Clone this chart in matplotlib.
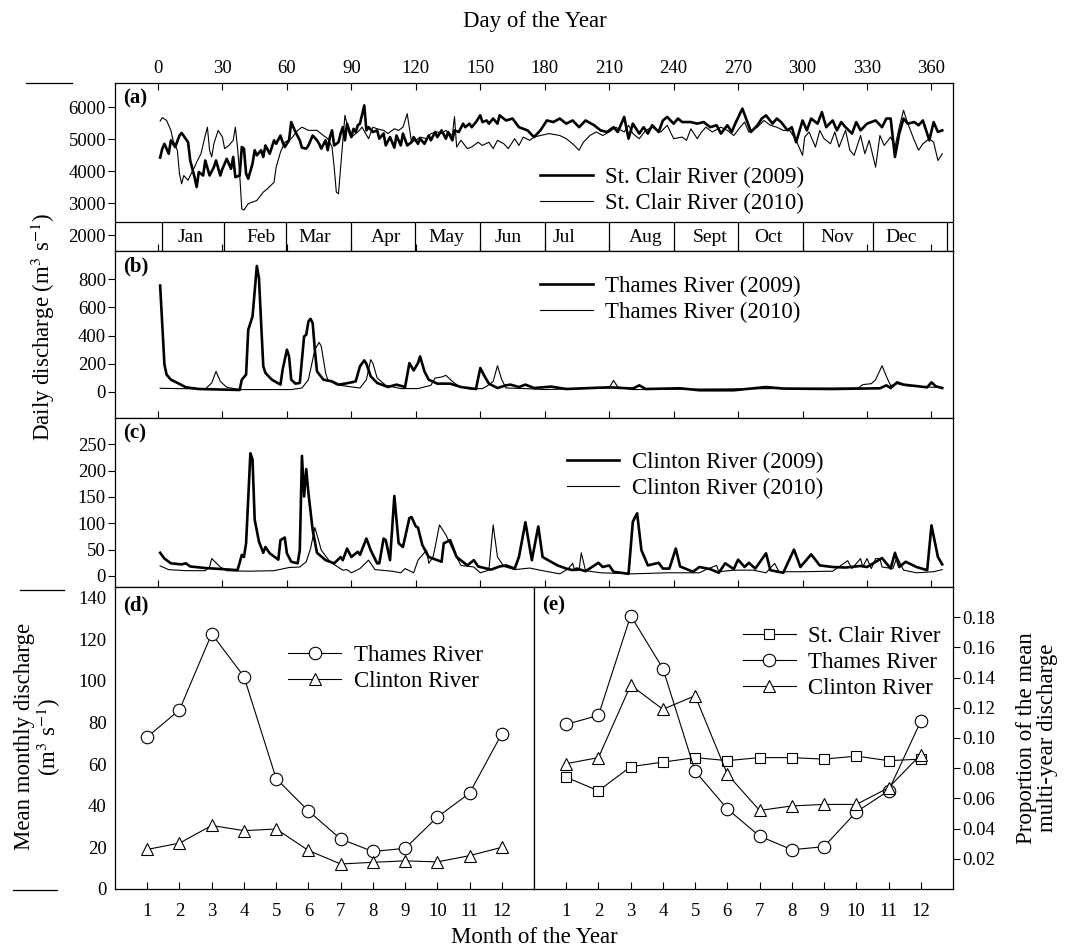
import matplotlib
matplotlib.use("Agg")
import matplotlib.pyplot as plt
from matplotlib.lines import Line2D

plt.rcParams['font.family'] = ['Liberation Serif', 'DejaVu Serif']
plt.rcParams['mathtext.fontset'] = 'stix'

# ---- daily discharge (day of year, m3/s) ----
stclair_2009_day = [1, 2, 3, 5, 6, 8, 10, 11, 14, 15, 17, 18, 19, 21, 22, 24, 26, 27, 29, 30,
                    32, 34, 35, 36, 38, 39, 40, 41, 42, 44, 45, 46, 48, 49, 50, 52, 54, 55, 57, 58,
                    59, 61, 62, 63, 64, 66, 67, 69, 70, 72, 74, 75, 76, 78, 79, 80, 81, 82, 84, 85,
                    86, 87, 88, 90, 91, 92, 93, 94, 96, 97, 98, 100, 102, 103, 105, 106, 108, 110, 111, 113,
                    114, 116, 118, 119, 121, 122, 124, 126, 127, 129, 130, 132, 134, 135, 137, 138, 140, 142, 143, 145,
                    146, 148, 150, 151, 153, 154, 156, 158, 159, 162, 165, 168, 172, 175, 178, 181, 184, 187, 190, 193,
                    196, 199, 203, 206, 209, 212, 214, 217, 219, 221, 224, 226, 228, 230, 233, 235, 237, 240, 242, 244,
                    248, 251, 254, 257, 260, 262, 265, 267, 269, 272, 274, 276, 279, 281, 283, 286, 288, 290, 293, 295,
                    297, 300, 302, 304, 307, 309, 311, 314, 316, 318, 320, 323, 325, 327, 330, 332, 334, 337, 339, 341,
                    343, 345, 347, 349, 352, 354, 356, 359, 361, 363, 365]
stclair_2009 = [4420, 4700, 4850, 4540, 4960, 4750, 5110, 5190, 4900, 4330, 3810, 3500, 3970, 3860, 4330, 3860, 4120, 4330, 3860, 4070,
                4380, 4070, 4440, 3810, 3860, 4750, 4700, 3920, 3760, 4230, 4650, 4490, 4650, 4440, 4800, 4540, 4960, 4850, 5110, 4900,
                4750, 4960, 5530, 5370, 5220, 4960, 4730, 4700, 4800, 5110, 4960, 4850, 4700, 4960, 4650, 5060, 5270, 4800, 4900, 5170,
                5370, 4960, 5480, 5060, 5320, 5220, 5430, 5480, 6050, 5270, 5370, 5220, 5270, 5010, 5170, 4800, 5060, 4730, 5110, 4800,
                5170, 4800, 4900, 5060, 4850, 5010, 4850, 5110, 4960, 5220, 5060, 5270, 5010, 5220, 4960, 5270, 5220, 5480, 5370, 5480,
                5370, 5530, 5740, 5530, 5580, 5480, 5640, 5480, 5740, 5580, 5640, 5370, 5270, 5060, 5270, 5580, 5530, 5640, 5480, 5580,
                5370, 5580, 5430, 5270, 5220, 5370, 5220, 5690, 5010, 5480, 5170, 5370, 5170, 5430, 5220, 5580, 5690, 5480, 5640, 5530,
                5530, 5480, 5530, 5370, 5430, 5170, 5430, 5220, 5530, 5950, 5580, 5220, 5430, 5640, 5740, 5480, 5640, 5530, 5270, 5370,
                4900, 5580, 5270, 5640, 5480, 5840, 5370, 5580, 5270, 5530, 5370, 5170, 5530, 5270, 5480, 5530, 5580, 5370, 5640, 5640,
                4440, 5170, 5640, 5480, 5530, 5430, 5580, 4960, 5530, 5220, 5270]

stclair_2010_day = [1, 2, 4, 6, 7, 9, 10, 11, 12, 14, 15, 17, 18, 20, 22, 23, 24, 25, 26, 28,
                    30, 31, 33, 35, 36, 37, 38, 39, 40, 42, 46, 49, 51, 54, 55, 57, 59, 62, 65, 67,
                    70, 74, 77, 79, 81, 82, 83, 84, 85, 86, 87, 89, 90, 93, 95, 98, 100, 102, 105, 107,
                    110, 112, 114, 116, 118, 120, 122, 125, 127, 130, 132, 134, 137, 138, 139, 141, 144, 146, 149, 151,
                    154, 156, 158, 161, 163, 166, 168, 170, 173, 175, 178, 182, 187, 190, 193, 196, 198, 201, 204, 207,
                    210, 213, 217, 219, 221, 224, 227, 230, 234, 237, 240, 244, 246, 248, 251, 253, 255, 258, 262, 265,
                    268, 271, 273, 275, 279, 282, 285, 288, 291, 294, 297, 300, 301, 303, 306, 308, 310, 313, 315, 317,
                    320, 322, 324, 327, 329, 331, 334, 336, 338, 341, 343, 345, 347, 349, 352, 354, 356, 359, 361, 363,
                    365]
stclair_2010 = [5560, 5670, 5580, 5270, 4960, 4650, 3920, 3600, 3860, 3710, 3860, 4120, 4280, 4540, 5110, 5370, 4650, 4440, 4850, 5270,
                5060, 4700, 4800, 4960, 5370, 4750, 3920, 2820, 2780, 2980, 3080, 3340, 3450, 3650, 4120, 4590, 4900, 5010, 5270, 5370,
                5270, 5270, 5110, 5010, 4750, 4120, 3340, 3290, 4120, 4960, 5740, 5170, 5060, 5220, 5370, 5010, 5370, 5320, 5270, 5170,
                5320, 5270, 5370, 5790, 4900, 4960, 5060, 5010, 5170, 5220, 5170, 5270, 5110, 5700, 4750, 4960, 4700, 4750, 4900, 4800,
                4900, 4700, 4960, 4850, 4700, 5010, 4800, 5060, 4960, 5060, 5110, 5170, 5110, 5010, 4850, 4650, 4900, 5110, 5220, 5110,
                5220, 5370, 5220, 5430, 5170, 5010, 5270, 5370, 5220, 5430, 5010, 5060, 4960, 5320, 5010, 5220, 5370, 5220, 5370, 5270,
                5110, 5370, 5530, 5220, 5370, 5580, 5430, 5370, 5270, 5270, 4960, 4490, 5060, 5220, 4750, 5270, 5010, 4850, 5220, 4750,
                5270, 4650, 4490, 5110, 4540, 4960, 4120, 5110, 4800, 5060, 4750, 5370, 5900, 5480, 4960, 4650, 4850, 5010, 4900, 4330,
                4540]

thames_2009_day = [1, 3, 4, 6, 10, 13, 19, 30, 38, 39, 41, 42, 44, 46, 47, 48, 49, 50, 53, 57,
                   58, 60, 61, 62, 64, 66, 67, 68, 69, 70, 71, 72, 73, 74, 77, 81, 84, 87, 90, 92,
                   94, 96, 97, 99, 102, 107, 111, 115, 117, 119, 121, 122, 124, 126, 130, 136, 141, 148, 150, 152,
                   154, 158, 162, 164, 168, 171, 175, 183, 190, 210, 221, 224, 227, 243, 252, 268, 283, 291, 314, 336,
                   339, 341, 344, 347, 358, 360, 362, 365]
thames_2009 = [755, 193, 123, 87, 57, 33, 21, 17, 14, 87, 123, 441, 536, 894, 807, 489, 182, 135, 87, 52,
               158, 300, 252, 87, 59, 64, 229, 394, 406, 500, 519, 488, 300, 146, 87, 75, 52, 59, 68, 75,
               182, 224, 200, 111, 64, 35, 52, 35, 205, 153, 205, 252, 146, 87, 59, 59, 35, 21, 170, 111,
               59, 28, 47, 52, 35, 52, 28, 38, 21, 33, 24, 47, 21, 26, 12, 12, 35, 24, 21, 26,
               47, 28, 68, 52, 33, 68, 40, 28]

thames_2010_day = [1, 22, 25, 27, 29, 32, 38, 62, 67, 70, 73, 75, 76, 78, 79, 83, 88, 94, 97, 99,
                   100, 102, 106, 113, 121, 127, 129, 132, 134, 137, 140, 145, 151, 153, 156, 158, 160, 162, 171, 180,
                   210, 212, 214, 221, 326, 328, 332, 334, 337, 339, 341, 344, 348, 361, 365]
thames_2010 = [26, 21, 64, 146, 75, 33, 17, 17, 28, 87, 300, 352, 323, 135, 87, 52, 40, 28, 87, 229,
               205, 99, 47, 24, 24, 47, 99, 106, 118, 75, 40, 21, 24, 40, 75, 186, 87, 28, 24, 17,
               28, 82, 35, 17, 28, 52, 59, 87, 186, 111, 45, 59, 45, 33, 31]

clinton_2009_day = [1, 3, 6, 11, 13, 15, 22, 30, 37, 38, 39, 40, 41, 43, 44, 45, 47, 49, 50, 52,
                    56, 57, 59, 60, 62, 65, 66, 67, 68, 69, 70, 72, 74, 78, 82, 85, 86, 88, 90, 93,
                    94, 97, 99, 102, 103, 105, 106, 108, 110, 112, 114, 117, 118, 120, 121, 123, 126, 132, 133, 136,
                    139, 144, 147, 149, 155, 159, 162, 166, 168, 171, 174, 177, 179, 182, 186, 190, 193, 195, 199, 205,
                    207, 210, 212, 219, 221, 223, 225, 228, 233, 235, 238, 241, 243, 249, 252, 257, 261, 264, 268, 270,
                    273, 275, 278, 283, 285, 291, 296, 299, 304, 308, 314, 320, 327, 330, 337, 341, 343, 345, 348, 353,
                    358, 360, 363, 365]
clinton_2009 = [44, 33, 24, 22, 24, 18, 15, 13, 11, 25, 40, 36, 62, 233, 221, 107, 65, 44, 55, 43,
                31, 68, 73, 43, 27, 24, 49, 228, 151, 203, 158, 87, 44, 30, 24, 36, 30, 52, 36, 46,
                40, 71, 49, 24, 24, 71, 68, 30, 152, 62, 55, 110, 112, 94, 92, 59, 36, 27, 62, 68,
                36, 20, 30, 18, 12, 18, 20, 14, 36, 102, 30, 94, 36, 29, 20, 14, 11, 14, 9, 25,
                17, 20, 8, 4, 103, 119, 49, 20, 25, 14, 14, 52, 18, 8, 17, 13, 6, 24, 13, 31,
                17, 25, 14, 43, 11, 6, 50, 17, 41, 20, 17, 16, 19, 17, 34, 14, 44, 17, 27, 17,
                11, 96, 36, 22]

clinton_2010_day = [1, 5, 13, 22, 24, 25, 29, 32, 42, 54, 61, 66, 69, 71, 73, 74, 76, 80, 86, 88,
                    90, 94, 98, 101, 109, 113, 115, 119, 121, 125, 126, 128, 129, 131, 134, 138, 141, 147, 150, 154,
                    156, 158, 161, 166, 173, 179, 187, 191, 193, 194, 196, 197, 199, 206, 221, 237, 252, 255, 260, 261,
                    268, 277, 283, 287, 289, 299, 314, 321, 323, 327, 328, 330, 332, 334, 336, 337, 342, 344, 347, 353,
                    361, 365]
clinton_2010 = [19, 12, 10, 10, 17, 33, 17, 10, 9, 10, 16, 17, 27, 52, 92, 78, 49, 27, 11, 12,
                6, 14, 30, 12, 9, 6, 14, 6, 30, 49, 24, 36, 55, 97, 78, 43, 20, 17, 6, 11,
                97, 36, 18, 12, 15, 10, 4, 14, 24, 10, 11, 44, 10, 6, 4, 6, 6, 12, 20, 8,
                11, 11, 6, 24, 8, 8, 9, 29, 14, 33, 17, 33, 14, 33, 33, 17, 14, 36, 11, 6,
                8, 12]

# month strip in panel (a)
month_names = ['Jan', 'Feb', 'Mar', 'Apr', 'May', 'Jun', 'Jul', 'Aug', 'Sept', 'Oct', 'Nov', 'Dec']
month_edges = [2, 30.5, 59.5, 90, 119.5, 150, 180, 210, 240, 270, 300, 333, 367]
month_label_x = [15, 48, 73, 106, 134, 163, 189, 227, 257, 284, 316, 346]

# ---- monthly means ----
months = list(range(1, 13))
thames_monthly = [73, 86, 122.5, 102, 53, 37.5, 24, 18, 19.5, 34.5, 46, 74.5]
clinton_monthly = [19, 22, 30.5, 28, 28.8, 18.5, 12, 12.8, 13.5, 13, 16, 20]
stclair_prop = [0.074, 0.065, 0.081, 0.084, 0.087, 0.085, 0.087, 0.087, 0.086, 0.088, 0.085, 0.086]
thames_prop = [0.109, 0.115, 0.181, 0.146, 0.078, 0.053, 0.035, 0.026, 0.028, 0.051, 0.065, 0.111]
clinton_prop = [0.083, 0.087, 0.135, 0.119, 0.128, 0.076, 0.052, 0.055, 0.056, 0.056, 0.067, 0.089]

TICK = 13.5
LAB = 16.5
THICK = 1.9
THIN = 0.8

fig = plt.figure(figsize=(10.74, 9.52), dpi=100)
L, R, MID = 0.1071, 0.8873, 0.4972
ax_a = fig.add_axes([L, 0.7363, R - L, 0.9128 - 0.7363])
ax_b = fig.add_axes([L, 0.5609, R - L, 0.7363 - 0.5609])
ax_c = fig.add_axes([L, 0.3834, R - L, 0.5609 - 0.3834])
ax_d = fig.add_axes([L, 0.0662, MID - L, 0.3834 - 0.0662])
ax_e = fig.add_axes([MID, 0.0662, R - MID, 0.3834 - 0.0662])


def daily_panel(ax, d09, v09, d10, v10, name, ylim, yticks, tag, leg_xy):
    ax.plot(d09, v09, color='black', lw=THICK, label=name + ' (2009)')
    ax.plot(d10, v10, color='black', lw=THIN, label=name + ' (2010)')
    ax.set_xlim(-20, 370)
    ax.set_ylim(*ylim)
    ax.set_yticks(yticks)
    ax.set_xticks(range(0, 361, 30))
    ax.tick_params(axis='x', direction='in', length=5, labelbottom=False)
    ax.tick_params(axis='y', direction='out', length=5, pad=1.5, labelsize=TICK)
    ax.legend(loc='upper left', bbox_to_anchor=leg_xy, frameon=False, fontsize=LAB,
              handlelength=2.3, handletextpad=0.55, labelspacing=0.2,
              borderpad=0, borderaxespad=0)
    ax.annotate(tag, xy=(0, 1), xycoords='axes fraction', xytext=(6, -4),
                textcoords='offset points', ha='left', va='top',
                fontsize=15, fontweight='bold')
    for s in ax.spines.values():
        s.set_linewidth(0.9)


daily_panel(ax_a, stclair_2009_day, stclair_2009, stclair_2010_day, stclair_2010,
            'St. Clair River', (1500, 6750), [2000, 3000, 4000, 5000, 6000], '(a)', (0.507, 0.50))
daily_panel(ax_b, thames_2009_day, thames_2009, thames_2010_day, thames_2010,
            'Thames River', (-185, 1000), [0, 200, 400, 600, 800], '(b)', (0.507, 0.849))
daily_panel(ax_c, clinton_2009_day, clinton_2009, clinton_2010_day, clinton_2010,
            'Clinton River', (-21, 300), [0, 50, 100, 150, 200, 250], '(c)', (0.539, 0.80))

# top axis of panel (a)
ax_a.tick_params(axis='x', top=True, labeltop=True, labelsize=TICK, pad=4)

# month strip
ax_a.axhline(2400, color='black', lw=0.9)
ax_a.vlines(month_edges, 1500, 2400, color='black', lw=0.9)
for mx, mn in zip(month_label_x, month_names):
    ax_a.text(mx, 1930, mn, ha='center', va='center', fontsize=14)

# panel (d)
ax_d.plot(months, thames_monthly, color='black', lw=0.8, marker='o', ms=9,
          mfc='white', mec='black', mew=0.8, label='Thames River')
ax_d.plot(months, clinton_monthly, color='black', lw=0.8, marker='^', ms=9,
          mfc='white', mec='black', mew=0.8, label='Clinton River')
ax_d.set_xlim(0, 13)
ax_d.set_ylim(0, 145)
ax_d.set_xticks(months)
ax_d.set_yticks(range(0, 141, 20))
ax_d.tick_params(axis='x', direction='in', length=5, labelsize=TICK, pad=10)
ax_d.tick_params(axis='y', length=0, labelsize=TICK, pad=6)
ax_d.legend(loc='upper left', bbox_to_anchor=(0.414, 0.809), frameon=False, fontsize=LAB,
            handlelength=2.3, handletextpad=0.55, labelspacing=0.22,
            borderpad=0, borderaxespad=0, numpoints=1)
ax_d.annotate('(d)', xy=(0, 1), xycoords='axes fraction', xytext=(6, -6),
              textcoords='offset points', ha='left', va='top', fontsize=15, fontweight='bold')

# panel (e)
ax_e.plot(months, stclair_prop, color='black', lw=0.8, marker='s', ms=7,
          mfc='white', mec='black', mew=0.8, label='St. Clair River')
ax_e.plot(months, thames_prop, color='black', lw=0.8, marker='o', ms=9,
          mfc='white', mec='black', mew=0.8, label='Thames River')
ax_e.plot(months, clinton_prop, color='black', lw=0.8, marker='^', ms=9,
          mfc='white', mec='black', mew=0.8, label='Clinton River')
ax_e.set_xlim(0, 13)
ax_e.set_ylim(0, 0.2)
ax_e.set_xticks(months)
ax_e.set_yticks([0.02, 0.04, 0.06, 0.08, 0.10, 0.12, 0.14, 0.16, 0.18])
ax_e.set_yticklabels(['%.2f' % v for v in [0.02, 0.04, 0.06, 0.08, 0.10, 0.12, 0.14, 0.16, 0.18]])
ax_e.yaxis.tick_right()
ax_e.yaxis.set_label_position('right')
ax_e.tick_params(axis='x', direction='in', length=5, labelsize=TICK, pad=10)
ax_e.tick_params(axis='y', direction='out', length=5, pad=2, labelsize=TICK)
ax_e.legend(loc='upper left', bbox_to_anchor=(0.499, 0.872), frameon=False, fontsize=LAB,
            handlelength=2.3, handletextpad=0.55, labelspacing=0.22,
            borderpad=0, borderaxespad=0, numpoints=1)
ax_e.annotate('(e)', xy=(0, 1), xycoords='axes fraction', xytext=(6, -6),
              textcoords='offset points', ha='left', va='top', fontsize=15, fontweight='bold')

for ax in (ax_d, ax_e):
    for s in ax.spines.values():
        s.set_linewidth(0.9)

# shared labels
fig.text(0.498, 0.977, 'Day of the Year', ha='center', va='center', fontsize=LAB)
fig.text(0.498, 0.015, 'Month of the Year', ha='center', va='center', fontsize=LAB)
fig.text(0.040, 0.657, 'Daily discharge (m$^{3}$ s$^{-1}$)', rotation=90,
         ha='center', va='center', fontsize=LAB)
fig.text(0.036, 0.226, 'Mean monthly discharge\n(m$^{3}$ s$^{-1}$)', rotation=90,
         ha='center', va='center', fontsize=LAB, linespacing=1.0)
fig.text(0.966, 0.225, 'Proportion of the mean\nmulti-year discharge', rotation=90,
         ha='center', va='center', fontsize=LAB, linespacing=1.0)

# short marks at the left margin
for x0, x1, y in [(26, 72, 83), (20, 64, 590), (13, 57, 890)]:
    fig.add_artist(Line2D([x0 / 1074, x1 / 1074], [1 - y / 952, 1 - y / 952],
                          transform=fig.transFigure, color='black', lw=0.9))

fig.savefig('out.png', dpi=100)
